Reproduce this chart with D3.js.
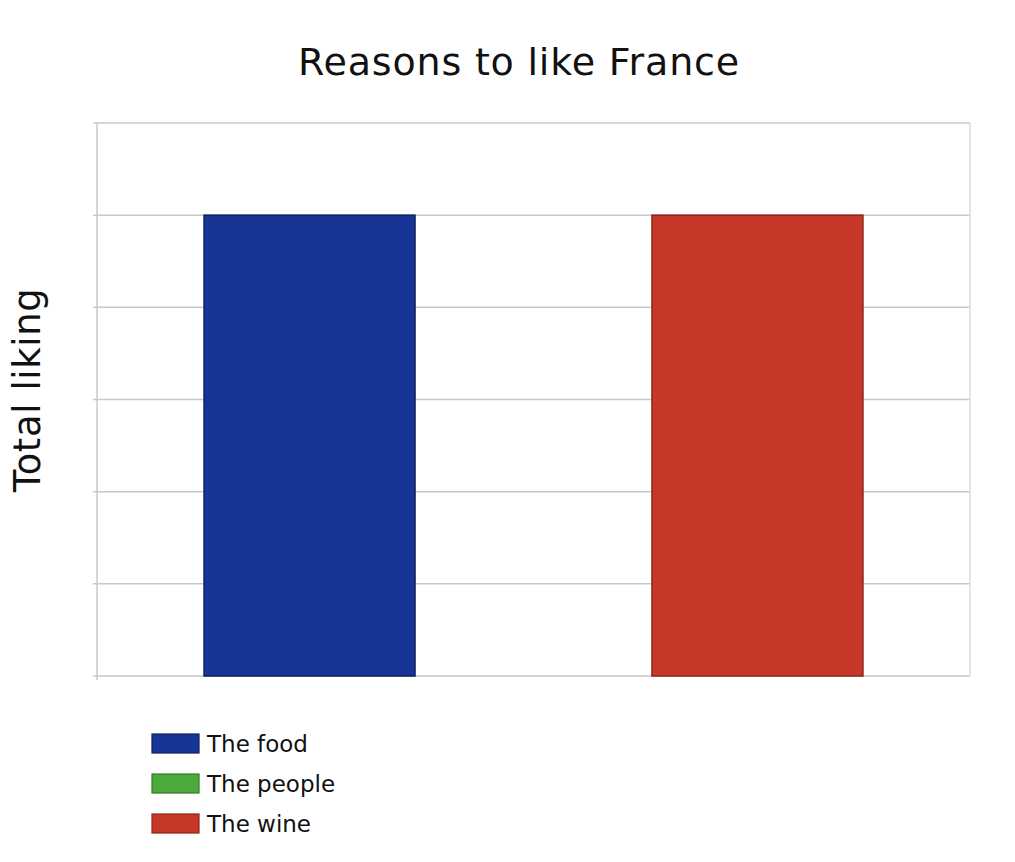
<!DOCTYPE html>
<html>
<head>
<meta charset="utf-8">
<script src="https://cdn.jsdelivr.net/npm/d3@7"></script>
<style>
  body { margin: 0; background: #fff; }
  svg { display: block; font-family: "DejaVu Sans", Verdana, sans-serif; }
</style>
</head>
<body>
<div id="vis"></div>
<script>
// data
var seriesNames = ['The food', 'The people', 'The wine'];
var seriesValues = [5, 0, 5];
var seriesFill = ['#173497', '#4caa3c', '#c7382a'];
var seriesStroke = ['#0e1f5e', '#2f7a25', '#8c2418'];
var yTicks = [0, 1, 2, 3, 4, 5, 6];

var width = 1015, height = 862;
var margin = { left: 97, top: 123, right: 45, bottom: 186 };

var svg = d3.select('#vis').append('svg')
    .attr('width', width)
    .attr('height', height);

var x = d3.scaleBand()
    .domain(seriesNames)
    .range([margin.left, width - margin.right])
    .paddingInner(0.058)
    .paddingOuter(0.478);

var y = d3.scaleLinear()
    .domain([0, 6])
    .range([height - margin.bottom, margin.top]);

// grid
svg.append('g')
    .selectAll('line')
    .data(yTicks)
    .enter().append('line')
        .attr('x1', margin.left - 4)
        .attr('x2', width - margin.right)
        .attr('y1', function(d) { return y(d); })
        .attr('y2', function(d) { return y(d); })
        .attr('stroke', '#c9c9c9')
        .attr('stroke-width', 1.5);

// left and right frame lines
svg.append('line')
    .attr('x1', margin.left).attr('x2', margin.left)
    .attr('y1', y(6)).attr('y2', y(0) + 4)
    .attr('stroke', '#c9c9c9').attr('stroke-width', 1.5);
svg.append('line')
    .attr('x1', width - margin.right).attr('x2', width - margin.right)
    .attr('y1', y(6)).attr('y2', y(0))
    .attr('stroke', '#dcdcdc').attr('stroke-width', 1.5);

// bars
svg.append('g')
    .selectAll('rect')
    .data(seriesNames)
    .enter().append('rect')
        .attr('x', function(d) { return x(d); })
        .attr('width', x.bandwidth())
        .attr('y', function(d, i) { return y(seriesValues[i]); })
        .attr('height', function(d, i) { return y(0) - y(seriesValues[i]); })
        .attr('fill', function(d, i) { return seriesFill[i]; })
        .attr('stroke', function(d, i) { return seriesStroke[i]; })
        .attr('stroke-width', function(d, i) { return seriesValues[i] > 0 ? 1.5 : 0; });

// title
svg.append('text')
    .attr('x', 519)
    .attr('y', 75)
    .attr('text-anchor', 'middle')
    .attr('font-size', 38)
    .attr('letter-spacing', 0.8)
    .attr('fill', '#111')
    .text('Reasons to like France');

// y axis label
svg.append('text')
    .attr('transform', 'translate(40,390) rotate(-90)')
    .attr('text-anchor', 'middle')
    .attr('font-size', 37)
    .attr('letter-spacing', 0.6)
    .attr('fill', '#111')
    .text('Total liking');

// legend
var legend = svg.append('g')
    .selectAll('g')
    .data(seriesNames)
    .enter().append('g')
        .attr('transform', function(d, i) { return 'translate(152,' + (734 + i * 40) + ')'; });

legend.append('rect')
    .attr('width', 47)
    .attr('height', 19)
    .attr('fill', function(d, i) { return seriesFill[i]; })
    .attr('stroke', function(d, i) { return seriesStroke[i]; })
    .attr('stroke-width', 1.2);

legend.append('text')
    .attr('x', 55)
    .attr('y', 18)
    .attr('font-size', 23)
    .attr('fill', '#111')
    .text(function(d) { return d; });
</script>
</body>
</html>
